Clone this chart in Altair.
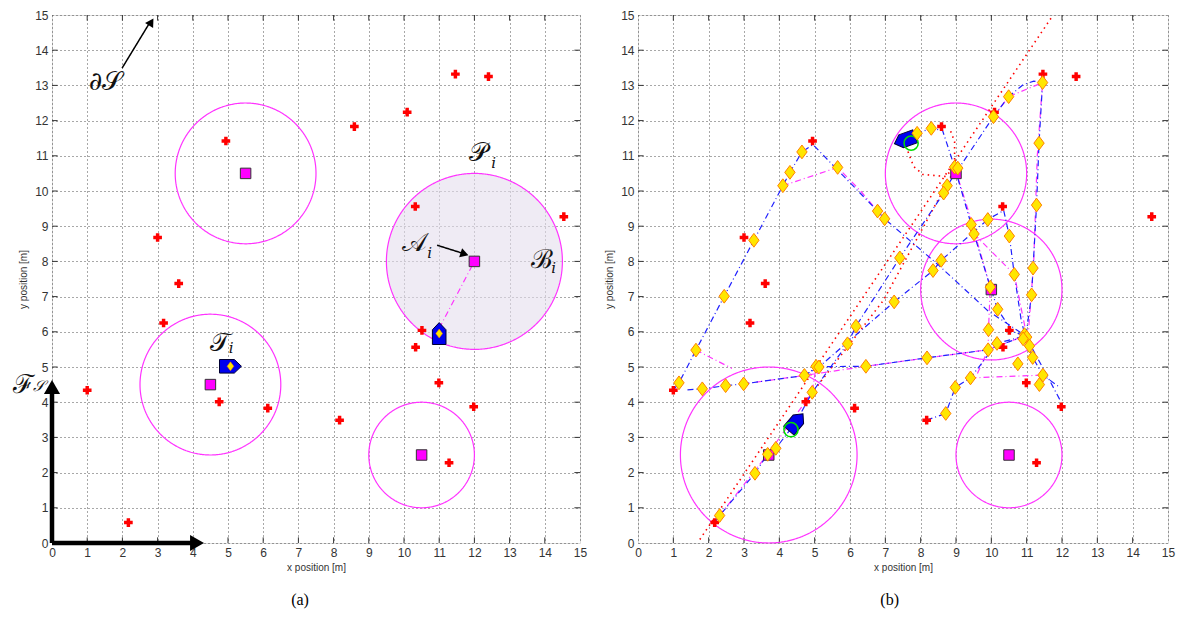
import altair as alt
import numpy as np
import pandas as pd

# ---------------- data ----------------
ticks = list(range(16))

# obstacles (red stars), same field in both panels
obs_x = [4.94, 3.00, 3.60, 11.46, 12.40, 10.09, 8.59, 10.32, 14.54, 1.00,
         3.17, 2.17, 4.75, 6.13, 10.51, 10.33, 10.99, 11.98, 8.17, 11.28]
obs_y = [11.42, 8.68, 7.37, 13.32, 13.25, 12.24, 11.83, 9.56, 9.27, 4.34,
         6.25, 0.58, 4.01, 3.83, 6.04, 5.56, 4.55, 3.87, 3.49, 2.28]

# panel (a)
a_tgt_x = [5.5, 12.0, 4.5, 10.5]
a_tgt_y = [10.5, 8.0, 4.5, 2.5]
a_tgt_r = [2.0, 2.5, 2.0, 1.5]
a_shaded = [False, True, False, False]
a_rob_x = [5.07, 11.0]
a_rob_y = [5.02, 5.95]
a_rob_heading = [90, 0]
a_link = [(11.0, 6.1), (12.0, 8.0)]

a_lab_text = ["∂𝒮", "𝒫", "𝒜", "ℬ", "𝒯", "ℱ"]
a_lab_x = [1.52, 12.12, 10.31, 13.92, 4.78, -0.80]
a_lab_y = [13.1, 11.08, 8.52, 8.05, 5.68, 4.50]
a_sub_text = ["i", "i", "i", "i", "𝒮"]
a_sub_x = [12.55, 10.73, 14.25, 5.09, -0.38]
a_sub_y = [10.80, 8.24, 7.81, 5.54, 4.45]

a_arrow_lines = {"dS": [(1.99, 13.49), (2.80, 14.82)],
                 "A": [(10.94, 8.46), (11.70, 8.22)],
                 "Fx": [(0.0, 0.0), (3.95, 0.0)],
                 "Fy": [(0.0, 0.0), (0.0, 4.25)]}
a_head_x = [2.82, 11.72, 4.12, 0.0]
a_head_y = [14.80, 8.21, 0.0, 4.43]
a_head_angle = [32, 108, 90, 0]
a_head_size = [90, 90, 260, 260]

# panel (b)
b_tgt_x = [9.0, 10.0, 3.7, 10.5]
b_tgt_y = [10.5, 7.2, 2.5, 2.5]
b_tgt_r = [2.0, 2.0, 2.5, 1.5]
b_rob_x = [4.47, 7.55]
b_rob_y = [3.43, 11.45]
b_rob_heading = [40, 250]
b_ring_x = [4.33, 7.73]
b_ring_y = [3.22, 11.36]

b_diam_x = [2.31, 3.31, 3.67, 3.90, 4.93, 4.71, 5.04, 5.12, 6.45, 5.93, 6.17, 7.25,
            1.16, 1.82, 2.48, 2.99, 1.64, 2.44, 3.28, 4.10, 4.30, 4.64, 5.65, 6.78, 6.98,
            7.90, 8.30, 8.96, 9.05, 8.75, 8.65, 10.06, 10.49, 11.45, 11.35, 11.28,
            9.43, 9.51, 9.90, 7.41, 8.58, 8.35, 10.51, 10.65, 11.18, 9.97, 11.14,
            10.18, 9.92, 10.16, 9.91, 8.18, 10.94, 11.00, 10.90, 11.08, 11.17, 10.75,
            11.46, 11.36, 9.41, 8.98, 8.71]
b_diam_y = [0.78, 1.98, 2.52, 2.69, 4.28, 4.76, 5.02, 5.00, 5.02, 5.66, 6.16, 6.85,
            4.55, 4.38, 4.47, 4.52, 5.48, 7.01, 8.60, 10.15, 10.53, 11.11, 10.67, 9.43, 9.21,
            11.64, 11.78, 10.68, 10.65, 10.15, 9.94, 12.11, 12.68, 13.08, 11.36, 9.60,
            9.05, 8.78, 9.19, 8.10, 8.03, 7.74, 8.72, 7.63, 7.81, 7.27, 7.05,
            6.64, 6.06, 5.67, 5.49, 5.26, 5.92, 5.85, 5.80, 5.60, 5.27, 5.09,
            4.77, 4.50, 4.69, 4.42, 3.68]

b_blue_paths = {
    "p1": [(2.15, 0.55), (2.31, 0.78), (3.31, 1.98), (3.67, 2.52), (3.90, 2.69), (4.47, 3.43),
           (4.93, 4.28), (5.93, 5.66), (6.17, 6.16), (7.41, 8.10), (8.65, 9.94), (8.75, 10.15),
           (10.06, 12.11), (10.49, 12.68), (10.90, 13.02), (11.20, 13.12), (11.45, 13.08),
           (11.35, 11.36), (11.28, 9.60), (11.18, 7.81), (11.14, 7.05), (10.98, 5.90)],
    "p2": [(1.00, 4.34), (1.16, 4.55), (1.64, 5.48), (2.44, 7.01), (3.28, 8.60), (4.10, 10.15),
           (4.30, 10.53), (4.64, 11.11), (4.95, 11.32), (6.78, 9.43), (6.98, 9.21), (8.50, 7.90),
           (9.90, 6.60), (10.96, 5.89), (11.50, 4.90), (11.95, 4.05)],
    "p3": [(1.40, 4.35), (1.82, 4.38), (2.48, 4.47), (2.99, 4.52), (4.71, 4.76), (5.08, 5.01),
           (6.45, 5.02), (8.18, 5.26), (9.91, 5.49), (10.96, 5.89)],
    "p4": [(7.55, 11.45), (7.90, 11.64), (8.30, 11.78), (8.62, 11.72), (8.96, 10.68), (9.43, 9.05),
           (9.51, 8.78), (9.97, 7.27), (10.18, 6.64), (10.60, 6.00), (10.96, 5.89)],
    "p5": [(4.71, 4.76), (5.12, 5.00), (7.25, 6.85), (8.35, 7.74), (8.58, 8.03), (9.90, 9.19),
           (10.35, 9.45), (10.51, 8.72), (10.65, 7.63), (10.85, 6.30), (10.96, 5.89)],
    "p6": [(8.17, 3.49), (8.71, 3.68), (8.98, 4.42), (9.41, 4.69), (10.16, 5.67), (10.96, 5.89)],
    "p7": [(10.96, 5.89), (11.17, 5.27), (11.46, 4.77), (11.90, 4.45)],
}
b_mag_paths = {
    "m1": [(4.10, 10.15), (5.65, 10.67), (6.30, 10.00), (6.78, 9.43)],
    "m2": [(1.64, 5.48), (2.66, 4.96)],
    "m3": [(9.41, 4.69), (11.46, 4.77)],
    "m4": [(10.06, 12.11), (10.49, 12.68), (11.45, 13.08), (11.30, 11.00), (11.20, 8.00), (11.05, 6.00)],
    "m5": [(8.96, 10.68), (9.30, 9.60), (9.97, 7.27), (9.92, 6.06), (9.91, 5.49), (9.60, 4.80)],
    "m6": [(9.51, 8.78), (10.65, 7.63), (11.00, 5.90)],
    "m7": [(2.31, 0.78), (3.67, 2.52), (4.93, 4.28), (5.04, 5.02)],
    "m8": [(2.99, 4.52), (4.71, 4.76), (6.45, 5.02), (8.18, 5.26), (9.91, 5.49), (10.96, 5.89)],
}
b_red_paths = {
    "r1": [(1.75, 0.10), (11.75, 15.0)],
    "r2": [(4.80, 4.10), (6.95, 6.90), (8.90, 10.50)],
    "r3": [(7.64, 11.12), (7.80, 10.70), (8.06, 10.47), (8.71, 10.41), (8.96, 10.70),
           (8.96, 11.40), (8.82, 11.78)],
}

# ---------------- helpers ----------------
FONT = "Liberation Sans"
XS = alt.Scale(domain=[0, 15], nice=False, zero=False)
YS = alt.Scale(domain=[0, 15], nice=False, zero=False)

x_axis = alt.Axis(values=ticks, title="x position [m]", grid=True, gridDash=[1, 3],
                  gridColor="#333", gridOpacity=0.85, ticks=False, domain=False,
                  labelFont=FONT, labelFontSize=12, labelColor="#333", labelPadding=4,
                  labelFlush=False, labelOverlap=False,
                  titleFont=FONT, titleFontSize=10, titleFontWeight="normal",
                  titleColor="#333", titlePadding=4)
y_axis = alt.Axis(values=ticks, title="y position [m]", grid=True, gridDash=[1, 3],
                  gridColor="#333", gridOpacity=0.85, ticks=False, domain=False,
                  labelFont=FONT, labelFontSize=12, labelColor="#333", labelPadding=4,
                  labelOverlap=False,
                  titleFont=FONT, titleFontSize=10, titleFontWeight="normal",
                  titleColor="#333", titlePadding=6)


def X(f="x"):
    return alt.X(f"{f}:Q", scale=XS, axis=x_axis, title="x position [m]")


def Y(f="y"):
    return alt.Y(f"{f}:Q", scale=YS, axis=y_axis, title="y position [m]")


def tick_layer():
    rows = []
    L = 0.16
    for t in ticks[1:-1]:
        rows.append(dict(x=t, x2=t, y=0, y2=L))
        rows.append(dict(x=t, x2=t, y=15, y2=15 - L))
        rows.append(dict(x=0, x2=L, y=t, y2=t))
        rows.append(dict(x=15, x2=15 - L, y=t, y2=t))
    df = pd.DataFrame(rows)
    return alt.Chart(df).mark_rule(color="#333", strokeWidth=1).encode(
        x=X("x"), x2="x2:Q", y=Y("y"), y2="y2:Q")


def path_df(paths):
    rows = []
    for name, pts in paths.items():
        for k, (px, py) in enumerate(pts):
            rows.append(dict(path=name, k=k, x=px, y=py))
    return pd.DataFrame(rows)


def line_layer(paths, color, dash, width=1.2, opacity=1.0):
    return alt.Chart(path_df(paths)).mark_line(
        color=color, strokeDash=dash, strokeWidth=width, opacity=opacity).encode(
        x=X(), y=Y(), detail="path:N", order="k:Q")


def circle_paths(cx, cy, r):
    out = {}
    th = np.linspace(0, 2 * np.pi, 181)
    for i, (a, b, c) in enumerate(zip(cx, cy, r)):
        out[f"c{i}"] = list(zip(a + c * np.cos(th), b + c * np.sin(th)))
    return out


def disk_layer(cx, cy, r):
    xs = np.linspace(cx - r, cx + r, 201)
    h = np.sqrt(np.clip(r ** 2 - (xs - cx) ** 2, 0, None))
    df = pd.DataFrame(dict(x=xs, y=cy + h, y2=cy - h))
    return alt.Chart(df).mark_area(color="#E4DEEC", opacity=0.6).encode(
        x=X(), y=Y(), y2="y2:Q")


def points(xs, ys, **kw):
    df = pd.DataFrame(dict(x=xs, y=ys))
    return alt.Chart(df).mark_point(**kw).encode(x=X(), y=Y())


STAR = dict(shape="cross", filled=True, color="#FF0000", size=75, opacity=1)
SQUARE = dict(shape="square", filled=True, fill="#FF00FF", stroke="#333", strokeWidth=1,
              size=110, opacity=1)
DIAMOND_SHAPE = "M0,-1L0.75,0L0,1L-0.75,0Z"
DIAMOND = dict(shape=DIAMOND_SHAPE, filled=True, fill="#FFE600",
               stroke="#FF8000", strokeWidth=1, size=190, opacity=1)
ROBOT_SHAPE = "M0,-1L0.62,-0.35L0.62,1L-0.62,1L-0.62,-0.35Z"


def robots(xs, ys, hd):
    df = pd.DataFrame(dict(x=xs, y=ys, a=hd))
    return alt.Chart(df).mark_point(shape=ROBOT_SHAPE, filled=True, fill="#0000EE",
                                    stroke="#000033", strokeWidth=1, size=480,
                                    opacity=1).encode(
        x=X(), y=Y(), angle=alt.Angle("a:Q", scale=None))


def texts(txt, xs, ys, size, italic=False):
    df = pd.DataFrame(dict(t=txt, x=xs, y=ys))
    return alt.Chart(df).mark_text(font="DejaVu Serif", fontSize=size,
                                   fontStyle="italic" if italic else "normal",
                                   color="#111", align="center", baseline="middle").encode(
        x=X(), y=Y(), text="t:N")


# ---------------- panel (a) ----------------
a_layers = [tick_layer()]
for cx, cy, r, s in zip(a_tgt_x, a_tgt_y, a_tgt_r, a_shaded):
    if s:
        a_layers.append(disk_layer(cx, cy, r))
a_layers += [
    line_layer(circle_paths(a_tgt_x, a_tgt_y, a_tgt_r), "#FF33FF", [1, 0], 1.2),
    line_layer({"l": a_link}, "#FF33FF", [6, 3, 1, 3], 1.2),
    points(obs_x, obs_y, **STAR),
    points(a_tgt_x, a_tgt_y, **SQUARE),
    robots(a_rob_x, a_rob_y, a_rob_heading),
    points(a_rob_x, a_rob_y, shape=DIAMOND_SHAPE, filled=True,
           fill="#FFE600", stroke="#FF8000", strokeWidth=0.5, size=80, opacity=1),
    line_layer({k: v for k, v in a_arrow_lines.items() if k in ("dS", "A")},
               "#000", [1, 0], 1.5),
    line_layer({k: v for k, v in a_arrow_lines.items() if k in ("Fx", "Fy")},
               "#000", [1, 0], 4.5),
    alt.Chart(pd.DataFrame(dict(x=a_head_x, y=a_head_y, a=a_head_angle, s=a_head_size)))
    .mark_point(shape="triangle-up", filled=True, color="#000", opacity=1)
    .encode(x=X(), y=Y(), angle=alt.Angle("a:Q", scale=None),
            size=alt.Size("s:Q", scale=None)),
    texts(a_lab_text, a_lab_x, a_lab_y, 26),
    texts(a_sub_text, a_sub_x, a_sub_y, 15, italic=True),
]

title_kw = dict(orient="bottom", font="Liberation Serif", fontSize=16,
                fontWeight="normal", color="#000", anchor="middle", frame="bounds",
                offset=20)

panel_a = alt.layer(*a_layers).properties(
    width=528, height=528, title=alt.TitleParams("(a)", **title_kw))

# ---------------- panel (b) ----------------
b_layers = [
    tick_layer(),
    line_layer(circle_paths(b_tgt_x, b_tgt_y, b_tgt_r), "#FF33FF", [1, 0], 1.2),
    line_layer(b_red_paths, "#FF0000", [1.5, 4], 1.6),
    line_layer(b_mag_paths, "#FF33FF", [6, 3, 1, 3], 1.2),
    line_layer(b_blue_paths, "#2020FF", [6, 3, 1, 3], 1.2),
    points(obs_x, obs_y, **STAR),
    points(b_tgt_x, b_tgt_y, **SQUARE),
    robots(b_rob_x, b_rob_y, b_rob_heading),
    points(b_ring_x, b_ring_y, shape="circle", filled=False, stroke="#00DD00",
           strokeWidth=1.5, size=200, opacity=1),
    points(b_diam_x, b_diam_y, **DIAMOND),
]

panel_b = alt.layer(*b_layers).properties(
    width=530, height=528, title=alt.TitleParams("(b)", **title_kw))

chart = alt.hconcat(panel_a, panel_b, spacing=16).properties(
    padding={"left": 4, "right": 0, "top": 0, "bottom": 0}
).configure_view(stroke="#444", strokeWidth=1).configure(background="white")

chart.save("out.html", embed_options={"renderer": "svg", "actions": False})
